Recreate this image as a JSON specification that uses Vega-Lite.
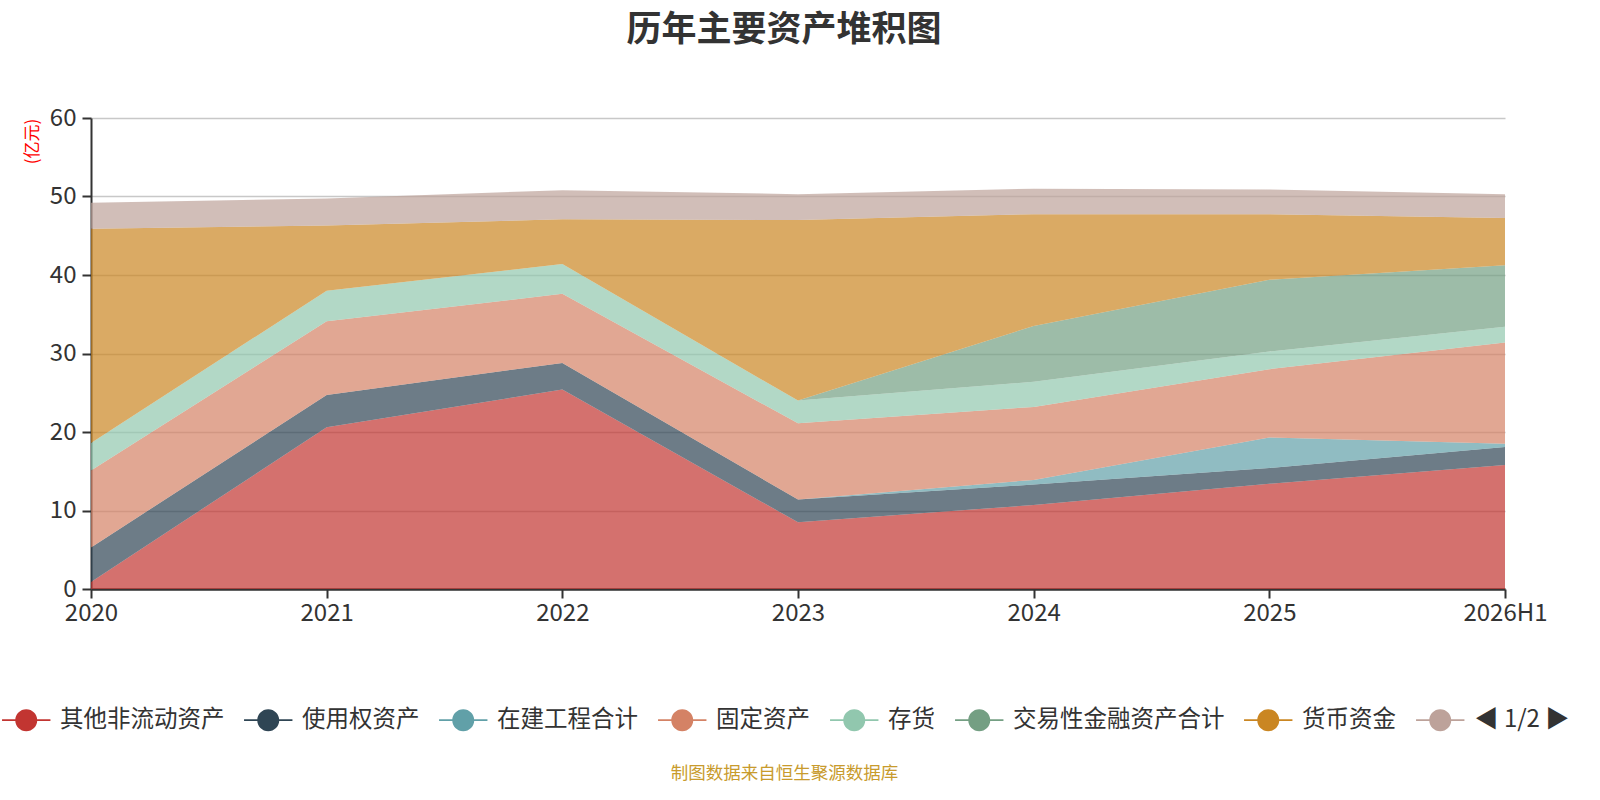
{
  "$schema": "https://vega.github.io/schema/vega-lite/v6.json",
  "width": 1414,
  "height": 471,
  "autosize": {"type": "none"},
  "padding": {"left": 91, "top": 118, "right": 95, "bottom": 211},
  "background": "white",
  "config": {"font": "Noto Sans CJK SC", "view": {"stroke": null}},
  "title": {"text": "历年主要资产堆积图", "fontSize": 35, "fontWeight": "bold", "color": "#333333", "anchor": "middle", "offset": 58, "dx": -14},
  "data": {"values": [
    {"year": "2020", "name": "其他非流动资产", "idx": 0, "value": 0.9},
    {"year": "2020", "name": "使用权资产", "idx": 1, "value": 4.4},
    {"year": "2020", "name": "在建工程合计", "idx": 2, "value": 0},
    {"year": "2020", "name": "固定资产", "idx": 3, "value": 9.8},
    {"year": "2020", "name": "存货", "idx": 4, "value": 3.5},
    {"year": "2020", "name": "交易性金融资产合计", "idx": 5, "value": 0},
    {"year": "2020", "name": "货币资金", "idx": 6, "value": 27.3},
    {"year": "2020", "name": "应收账款", "idx": 7, "value": 3.3},
    {"year": "2021", "name": "其他非流动资产", "idx": 0, "value": 20.6},
    {"year": "2021", "name": "使用权资产", "idx": 1, "value": 4.1},
    {"year": "2021", "name": "在建工程合计", "idx": 2, "value": 0},
    {"year": "2021", "name": "固定资产", "idx": 3, "value": 9.4},
    {"year": "2021", "name": "存货", "idx": 4, "value": 3.9},
    {"year": "2021", "name": "交易性金融资产合计", "idx": 5, "value": 0},
    {"year": "2021", "name": "货币资金", "idx": 6, "value": 8.3},
    {"year": "2021", "name": "应收账款", "idx": 7, "value": 3.45},
    {"year": "2022", "name": "其他非流动资产", "idx": 0, "value": 25.4},
    {"year": "2022", "name": "使用权资产", "idx": 1, "value": 3.4},
    {"year": "2022", "name": "在建工程合计", "idx": 2, "value": 0},
    {"year": "2022", "name": "固定资产", "idx": 3, "value": 8.8},
    {"year": "2022", "name": "存货", "idx": 4, "value": 3.8},
    {"year": "2022", "name": "交易性金融资产合计", "idx": 5, "value": 0},
    {"year": "2022", "name": "货币资金", "idx": 6, "value": 5.7},
    {"year": "2022", "name": "应收账款", "idx": 7, "value": 3.7},
    {"year": "2023", "name": "其他非流动资产", "idx": 0, "value": 8.5},
    {"year": "2023", "name": "使用权资产", "idx": 1, "value": 2.9},
    {"year": "2023", "name": "在建工程合计", "idx": 2, "value": 0},
    {"year": "2023", "name": "固定资产", "idx": 3, "value": 9.7},
    {"year": "2023", "name": "存货", "idx": 4, "value": 2.9},
    {"year": "2023", "name": "交易性金融资产合计", "idx": 5, "value": 0},
    {"year": "2023", "name": "货币资金", "idx": 6, "value": 23.0},
    {"year": "2023", "name": "应收账款", "idx": 7, "value": 3.3},
    {"year": "2024", "name": "其他非流动资产", "idx": 0, "value": 10.7},
    {"year": "2024", "name": "使用权资产", "idx": 1, "value": 2.6},
    {"year": "2024", "name": "在建工程合计", "idx": 2, "value": 0.6},
    {"year": "2024", "name": "固定资产", "idx": 3, "value": 9.3},
    {"year": "2024", "name": "存货", "idx": 4, "value": 3.2},
    {"year": "2024", "name": "交易性金融资产合计", "idx": 5, "value": 7.1},
    {"year": "2024", "name": "货币资金", "idx": 6, "value": 14.25},
    {"year": "2024", "name": "应收账款", "idx": 7, "value": 3.25},
    {"year": "2025", "name": "其他非流动资产", "idx": 0, "value": 13.4},
    {"year": "2025", "name": "使用权资产", "idx": 1, "value": 2.0},
    {"year": "2025", "name": "在建工程合计", "idx": 2, "value": 3.9},
    {"year": "2025", "name": "固定资产", "idx": 3, "value": 8.7},
    {"year": "2025", "name": "存货", "idx": 4, "value": 2.25},
    {"year": "2025", "name": "交易性金融资产合计", "idx": 5, "value": 9.15},
    {"year": "2025", "name": "货币资金", "idx": 6, "value": 8.35},
    {"year": "2025", "name": "应收账款", "idx": 7, "value": 3.15},
    {"year": "2026H1", "name": "其他非流动资产", "idx": 0, "value": 15.8},
    {"year": "2026H1", "name": "使用权资产", "idx": 1, "value": 2.3},
    {"year": "2026H1", "name": "在建工程合计", "idx": 2, "value": 0.4},
    {"year": "2026H1", "name": "固定资产", "idx": 3, "value": 12.9},
    {"year": "2026H1", "name": "存货", "idx": 4, "value": 2.0},
    {"year": "2026H1", "name": "交易性金融资产合计", "idx": 5, "value": 7.85},
    {"year": "2026H1", "name": "货币资金", "idx": 6, "value": 6.0},
    {"year": "2026H1", "name": "应收账款", "idx": 7, "value": 3.05}
  ]},
  "mark": {"type": "area", "opacity": 0.7, "interpolate": "linear"},
  "encoding": {
    "x": {
      "field": "year", "type": "ordinal", "sort": null,
      "scale": {"type": "point", "padding": 0},
      "axis": {
        "title": "制图数据来自恒生聚源数据库", "titleColor": "#c89b2d", "titleFontSize": 17.5, "titleFontWeight": "normal",
        "titleX": 693, "titleY": 184, "titleAlign": "center", "titleBaseline": "middle",
        "labelAngle": 0, "labelFontSize": 24, "labelColor": "#333333", "labelPadding": 3,
        "domainColor": "#333333", "domainWidth": 2.5, "tickColor": "#333333", "tickWidth": 2, "tickSize": 9, "grid": false
      }
    },
    "y": {
      "field": "value", "type": "quantitative", "stack": "zero",
      "scale": {"domain": [0, 60], "nice": false},
      "axis": {
        "title": "(亿元)", "titleColor": "#ff0000", "titleFontSize": 17, "titleFontWeight": "normal",
        "titleX": -59, "titleY": 23, "titleAngle": -90, "titleAlign": "center", "titleBaseline": "middle",
        "values": [0, 10, 20, 30, 40, 50, 60], "labelFontSize": 24, "labelColor": "#333333", "labelPadding": 6,
        "domainColor": "#333333", "domainWidth": 2, "tickColor": "#333333", "tickWidth": 2, "tickSize": 9,
        "gridColor": "#c8c8c8", "gridWidth": 1.5
      }
    },
    "color": {
      "field": "name", "type": "nominal",
      "scale": {
        "domain": ["其他非流动资产", "使用权资产", "在建工程合计", "固定资产", "存货", "交易性金融资产合计", "货币资金", "应收账款"],
        "range": ["#c23531", "#2f4554", "#61a0a8", "#d48265", "#91c7ae", "#749f83", "#ca8622", "#bda29a"]
      },
      "legend": {
        "orient": "none", "legendX": -76.5, "legendY": 590, "direction": "horizontal",
        "symbolType": "M-2.2,-0.09H2.2V0.09H-2.2Z M1,0A1,1 0 1,1 -1,0A1,1 0 1,1 1,0Z",
        "symbolSize": 484, "symbolOpacity": 1, "symbolStrokeWidth": 0,
        "labelFontSize": 23.5, "labelColor": "#333333", "labelOffset": 22, "columnPadding": 19,
        "labelExpr": "datum.label == '应收账款' ? '' : datum.label", "labelLimit": 400,
        "title": "◀ 1/2 ▶", "titleOrient": "right", "titleFontSize": 24, "titleFontWeight": "normal", "titleColor": "#333333", "titlePadding": 0
      }
    },
    "order": {"field": "idx", "type": "quantitative"}
  }
}
